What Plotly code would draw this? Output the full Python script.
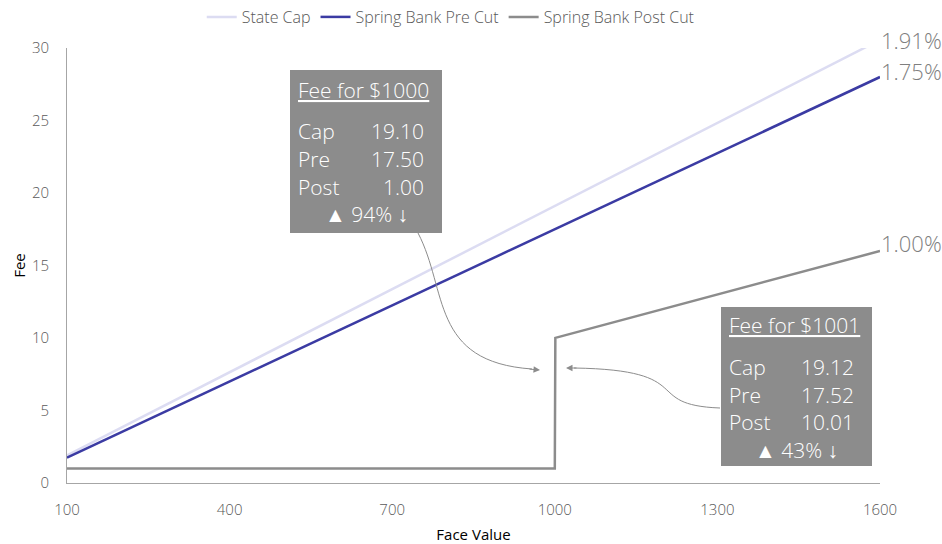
import plotly.graph_objects as go

# ---- data ----
face_values = [100, 1000, 1001, 1600]
state_cap = [1.91, 19.10, 19.12, 30.56]
pre_cut = [1.75, 17.50, 17.52, 28.00]
post_cut = [1.00, 1.00, 10.01, 16.00]
series_names = ["State Cap", "Spring Bank Pre Cut", "Spring Bank Post Cut"]
end_labels = ["1.91%", "1.75%", "1.00%"]
x_ticks = [100, 400, 700, 1000, 1300, 1600]
y_ticks = [0, 5, 10, 15, 20, 25, 30]

box1_rows = [("Cap", "19.10"), ("Pre", "17.50"), ("Post", "1.00")]
box1_title = "Fee for $1000"
box1_change = "▲ 94% ↓"
box2_rows = [("Cap", "19.12"), ("Pre", "17.52"), ("Post", "10.01")]
box2_title = "Fee for $1001"
box2_change = "▲ 43% ↓"

colors = ["#DCDCF2", "#3B3BA3", "#8C8C8C"]
FONT = "Open Sans"
W, H = 942, 544
L, R, T, B = 67, 880, 48, 483


def px(xp):
    return (xp - L) / (R - L)


def py(yp):
    return (B - yp) / (B - T)


fig = go.Figure()
for name, ys, c in zip(series_names, [state_cap, pre_cut, post_cut], colors):
    fig.add_trace(go.Scatter(x=face_values, y=ys, name=name, mode="lines",
                             line=dict(color=c, width=2.5)))

annotations = []
shapes = []

# end labels (placed at pixel positions beside line ends)
lab_font = dict(family=FONT, size=22, color="#7F7F7F", weight=300)
for lab, yc in zip(end_labels, [40, 71, 243]):
    annotations.append(dict(x=px(879), y=py(yc), xref="paper", yref="paper",
                            text=lab, showarrow=False, xanchor="left",
                            yanchor="middle", font=lab_font))

box_fill = "#8C8C8C"


def add_box(x0, y0, x1, y1, title, rows, change, title_y, row_ys, change_y,
            lab_x, num_x):
    shapes.append(dict(type="rect", xref="paper", yref="paper",
                       x0=px(x0), x1=px(x1), y0=py(y1), y1=py(y0),
                       fillcolor=box_fill, line=dict(width=0), layer="above"))
    f = dict(family=FONT, size=21, color="white", weight=300)
    annotations.append(dict(x=px(lab_x), y=py(title_y), xref="paper", yref="paper",
                            text="<u>" + title + "</u>", showarrow=False,
                            xanchor="left", yanchor="middle", font=f))
    for (lab, num), ry in zip(rows, row_ys):
        annotations.append(dict(x=px(lab_x), y=py(ry), xref="paper", yref="paper",
                                text=lab, showarrow=False, xanchor="left",
                                yanchor="middle", font=f))
        annotations.append(dict(x=px(num_x), y=py(ry), xref="paper", yref="paper",
                                text=num, showarrow=False, xanchor="right",
                                yanchor="middle", font=f))
    annotations.append(dict(x=px((x0 + x1) / 2), y=py(change_y), xref="paper",
                            yref="paper", text=change, showarrow=False,
                            xanchor="center", yanchor="middle", font=f))


add_box(290, 70, 442, 233, box1_title, box1_rows, box1_change, 90,
        [131, 159, 187], 214, 296, 426)
add_box(721, 307, 872, 466, box2_title, box2_rows, box2_change, 325,
        [367, 395, 422], 450, 727, 856)


# curved connector arrows (pixel-space bezier converted to paper coords)
def path(pts):
    p = [(px(a), py(b)) for a, b in pts]
    return "M {},{} C {},{} {},{} {},{}".format(*[v for xy in p for v in xy])


shapes.append(dict(type="path", xref="paper", yref="paper",
                   path=path([(418, 233), (448, 290), (430, 362), (532, 369)]),
                   line=dict(color="#8C8C8C", width=1), layer="above"))
shapes.append(dict(type="path", xref="paper", yref="paper",
                   path=path([(720, 408), (640, 405), (700, 370), (574, 368)]),
                   line=dict(color="#8C8C8C", width=1), layer="above"))
# arrowheads
annotations.append(dict(x=px(540), y=py(370), ax=-12, ay=-1,
                        xref="paper", yref="paper",
                        text="", showarrow=True, arrowhead=2, arrowsize=1.3,
                        arrowwidth=1, arrowcolor="#8C8C8C"))
annotations.append(dict(x=px(566), y=py(368), ax=12, ay=0,
                        xref="paper", yref="paper",
                        text="", showarrow=True, arrowhead=2, arrowsize=1.3,
                        arrowwidth=1, arrowcolor="#8C8C8C"))

tick_font = dict(family=FONT, size=15, color="#595959", weight=300)
fig.update_layout(
    width=W, height=H,
    margin=dict(l=L, r=W - R, t=T, b=H - B, autoexpand=False),
    paper_bgcolor="white", plot_bgcolor="white",
    font=dict(family=FONT, color="#595959"),
    showlegend=True,
    legend=dict(orientation="h", x=0.472, xanchor="center", y=1.0, yref="container",
                yanchor="top", font=dict(family=FONT, size=16, color="#595959", weight=300),
                itemwidth=30, tracegroupgap=0),
    xaxis=dict(range=[100, 1600], tickvals=x_ticks, showgrid=False, zeroline=False,
               showline=True, linecolor="#A6A6A6", linewidth=1, ticks="",
               tickfont=tick_font, ticklabelstandoff=13, automargin=False,
               title=dict(text="Face Value", standoff=12,
                          font=dict(family=FONT, size=15, color="black"))),
    yaxis=dict(range=[0, 30], tickvals=y_ticks, showgrid=False, zeroline=False,
               showline=True, linecolor="#A6A6A6", linewidth=1, ticks="",
               tickfont=tick_font, ticklabelstandoff=14, automargin=False,
               title=dict(text="Fee", standoff=2,
                          font=dict(family=FONT, size=15, color="black"))),
    annotations=annotations, shapes=shapes,
)

fig.write_html("out.html")
